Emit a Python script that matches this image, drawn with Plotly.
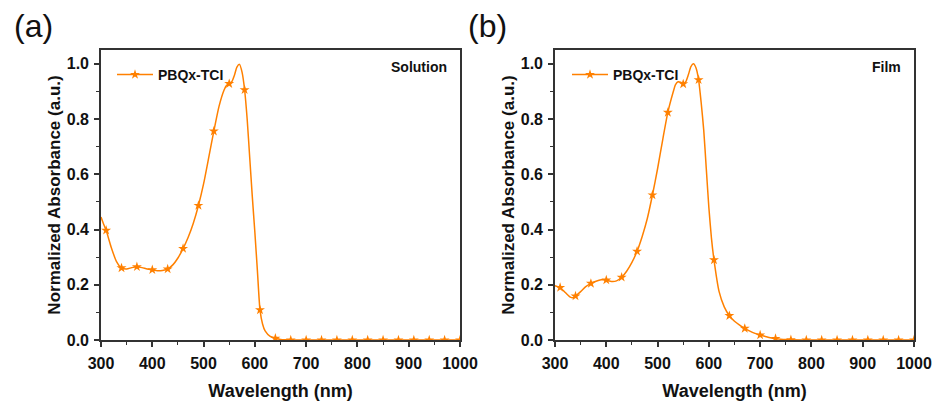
import plotly.graph_objects as go

# ---- data ----
sol_wl = [300, 305, 310, 320, 330, 340, 350, 360, 370, 380, 390, 400, 410, 420, 430, 440, 450, 460,
          470, 480, 490, 500, 510, 520, 530, 540, 545, 550, 555, 560, 565, 570, 575, 580, 585, 590,
          595, 600, 605, 610, 615, 620, 630, 640, 650, 660, 670, 700, 750, 800, 850, 900, 950, 1000]
sol_abs = [0.445, 0.42, 0.397, 0.335, 0.285, 0.261, 0.257, 0.262, 0.265, 0.262, 0.257, 0.254, 0.251,
           0.252, 0.257, 0.272, 0.297, 0.331, 0.372, 0.423, 0.487, 0.565, 0.66, 0.756, 0.845, 0.905,
           0.922, 0.928, 0.935, 0.958, 0.988, 0.998, 0.97, 0.906, 0.8, 0.66, 0.52, 0.39, 0.25, 0.109,
           0.058, 0.033, 0.013, 0.006, 0.002, 0.0005, 0, 0, 0, 0, 0, 0, 0, 0]

film_wl = [300, 310, 320, 330, 335, 340, 350, 360, 370, 380, 390, 400, 410, 420, 430, 440, 450, 460,
           470, 480, 490, 500, 510, 520, 530, 535, 540, 545, 550, 555, 560, 565, 570, 575, 580, 585,
           590, 595, 600, 605, 610, 620, 630, 640, 650, 660, 670, 680, 690, 700, 710, 720, 730, 740,
           750, 760, 780, 850, 900, 950, 1000]
film_abs = [0.197, 0.19, 0.172, 0.155, 0.153, 0.159, 0.175, 0.193, 0.205, 0.213, 0.218, 0.217, 0.212,
            0.214, 0.227, 0.25, 0.281, 0.321, 0.375, 0.44, 0.525, 0.62, 0.725, 0.824, 0.895, 0.925,
            0.935, 0.933, 0.927, 0.935, 0.96, 0.99, 1.0, 0.985, 0.942, 0.86, 0.76, 0.62, 0.48, 0.37,
            0.29, 0.175, 0.12, 0.088, 0.068, 0.054, 0.042, 0.032, 0.024, 0.018, 0.013, 0.008, 0.005,
            0.003, 0.0015, 0.0005, 0, 0, 0, 0, 0]

mk_wl = [310, 340, 370, 400, 430, 460, 490, 520, 550, 580, 610, 640, 670, 700, 730, 760, 790, 820,
         850, 880, 910, 940, 970, 1000]
sol_mk = [0.397, 0.261, 0.265, 0.254, 0.257, 0.331, 0.487, 0.756, 0.928, 0.906, 0.109, 0.006,
          0, 0, 0, 0, 0, 0, 0, 0, 0, 0, 0, 0]
film_mk = [0.19, 0.159, 0.205, 0.217, 0.227, 0.321, 0.525, 0.824, 0.927, 0.942, 0.29, 0.088,
           0.042, 0.018, 0.005, 0.0005, 0, 0, 0, 0, 0, 0, 0, 0]

series_name = "PBQx-TCI"
panel_labels = ["(a)", "(b)"]
panel_notes = ["Solution", "Film"]
x_title = "Wavelength (nm)"
y_title = "Normalized Absorbance (a.u.)"

# ---- style ----
ORANGE = "#FF8000"
AXC = "#333333"
TXT = "#111111"
FONT = "Liberation Sans, Arial, sans-serif"
W, H = 936, 401
MS = 7.5

fig = go.Figure()

panels = [
    dict(wl=sol_wl, ab=sol_abs, mk=sol_mk, xa="x", ya="y", leg="legend"),
    dict(wl=film_wl, ab=film_abs, mk=film_mk, xa="x2", ya="y2", leg="legend2"),
]
for p in panels:
    fig.add_trace(go.Scatter(x=p["wl"], y=p["ab"], mode="lines",
                             line=dict(color=ORANGE, width=1.5, shape="spline", smoothing=0.6),
                             xaxis=p["xa"], yaxis=p["ya"], showlegend=False, hoverinfo="skip"))
    fig.add_trace(go.Scatter(x=mk_wl, y=p["mk"], mode="markers",
                             marker=dict(symbol="star", size=MS, color=ORANGE, line=dict(width=0)),
                             xaxis=p["xa"], yaxis=p["ya"], showlegend=False))
    fig.add_trace(go.Scatter(x=[None], y=[None], mode="lines+markers", name=series_name,
                             line=dict(color=ORANGE, width=1.5),
                             marker=dict(symbol="star", size=MS, color=ORANGE, line=dict(width=0)),
                             xaxis=p["xa"], yaxis=p["ya"], legend=p["leg"]))

xdoms = [[101 / W, 460 / W], [555 / W, 914 / W]]
ydom = [(H - 340) / H, (H - 50) / H]

def xax(dom, anchor):
    return dict(domain=dom, anchor=anchor, range=[300, 1000], dtick=100, tick0=300, automargin=False,
                showline=True, linecolor=AXC, linewidth=1.6, mirror=True,
                ticks="outside", ticklen=5, tickwidth=1.6, tickcolor=AXC,
                minor=dict(dtick=50, tick0=300, ticks="outside", ticklen=3, tickwidth=1.4, tickcolor=AXC),
                showgrid=False, zeroline=False, ticklabelstandoff=3,
                tickfont=dict(family=FONT, size=16, color=TXT, weight="bold"),
                title=dict(text="<b>%s</b>" % x_title, font=dict(family=FONT, size=18, color=TXT), standoff=14))

def yax(anchor):
    return dict(domain=ydom, anchor=anchor, range=[0, 1.05], dtick=0.2, tick0=0, tickformat=".1f",
                automargin=False,
                showline=True, linecolor=AXC, linewidth=1.6, mirror=True,
                ticks="outside", ticklen=5, tickwidth=1.6, tickcolor=AXC,
                minor=dict(dtick=0.1, tick0=0, ticks="outside", ticklen=3, tickwidth=1.4, tickcolor=AXC),
                showgrid=False, zeroline=False, ticklabelstandoff=2,
                tickfont=dict(family=FONT, size=16, color=TXT, weight="bold"),
                title=dict(text="<b>%s</b>" % y_title, font=dict(family=FONT, size=17, color=TXT), standoff=2))

legfont = dict(family=FONT, size=14, color=TXT, weight="bold")
fig.update_layout(
    width=W, height=H, margin=dict(l=0, r=0, t=0, b=0, autoexpand=False),
    paper_bgcolor="white", plot_bgcolor="white",
    xaxis=xax(xdoms[0], "y"), yaxis=yax("x"),
    xaxis2=xax(xdoms[1], "y2"), yaxis2=yax("x2"),
    legend=dict(x=112 / W, y=(H - 59) / H, xanchor="left", yanchor="top", bgcolor="rgba(0,0,0,0)",
                font=legfont, itemwidth=36),
    legend2=dict(x=567 / W, y=(H - 59) / H, xanchor="left", yanchor="top", bgcolor="rgba(0,0,0,0)",
                 font=legfont, itemwidth=36),
    showlegend=True,
)

for i, xl in enumerate([12, 466]):
    fig.add_annotation(xref="paper", yref="paper", x=xl / W, y=(H - 26) / H, text=panel_labels[i],
                       showarrow=False, xanchor="left", yanchor="middle",
                       font=dict(family=FONT, size=32, color=TXT))
for i, xr in enumerate([449, 903]):
    fig.add_annotation(xref="paper", yref="paper", x=xr / W, y=(H - 67) / H, text="<b>%s</b>" % panel_notes[i],
                       showarrow=False, xanchor="right", yanchor="middle",
                       font=dict(family=FONT, size=14, color=TXT))

fig.write_html("out.html")
